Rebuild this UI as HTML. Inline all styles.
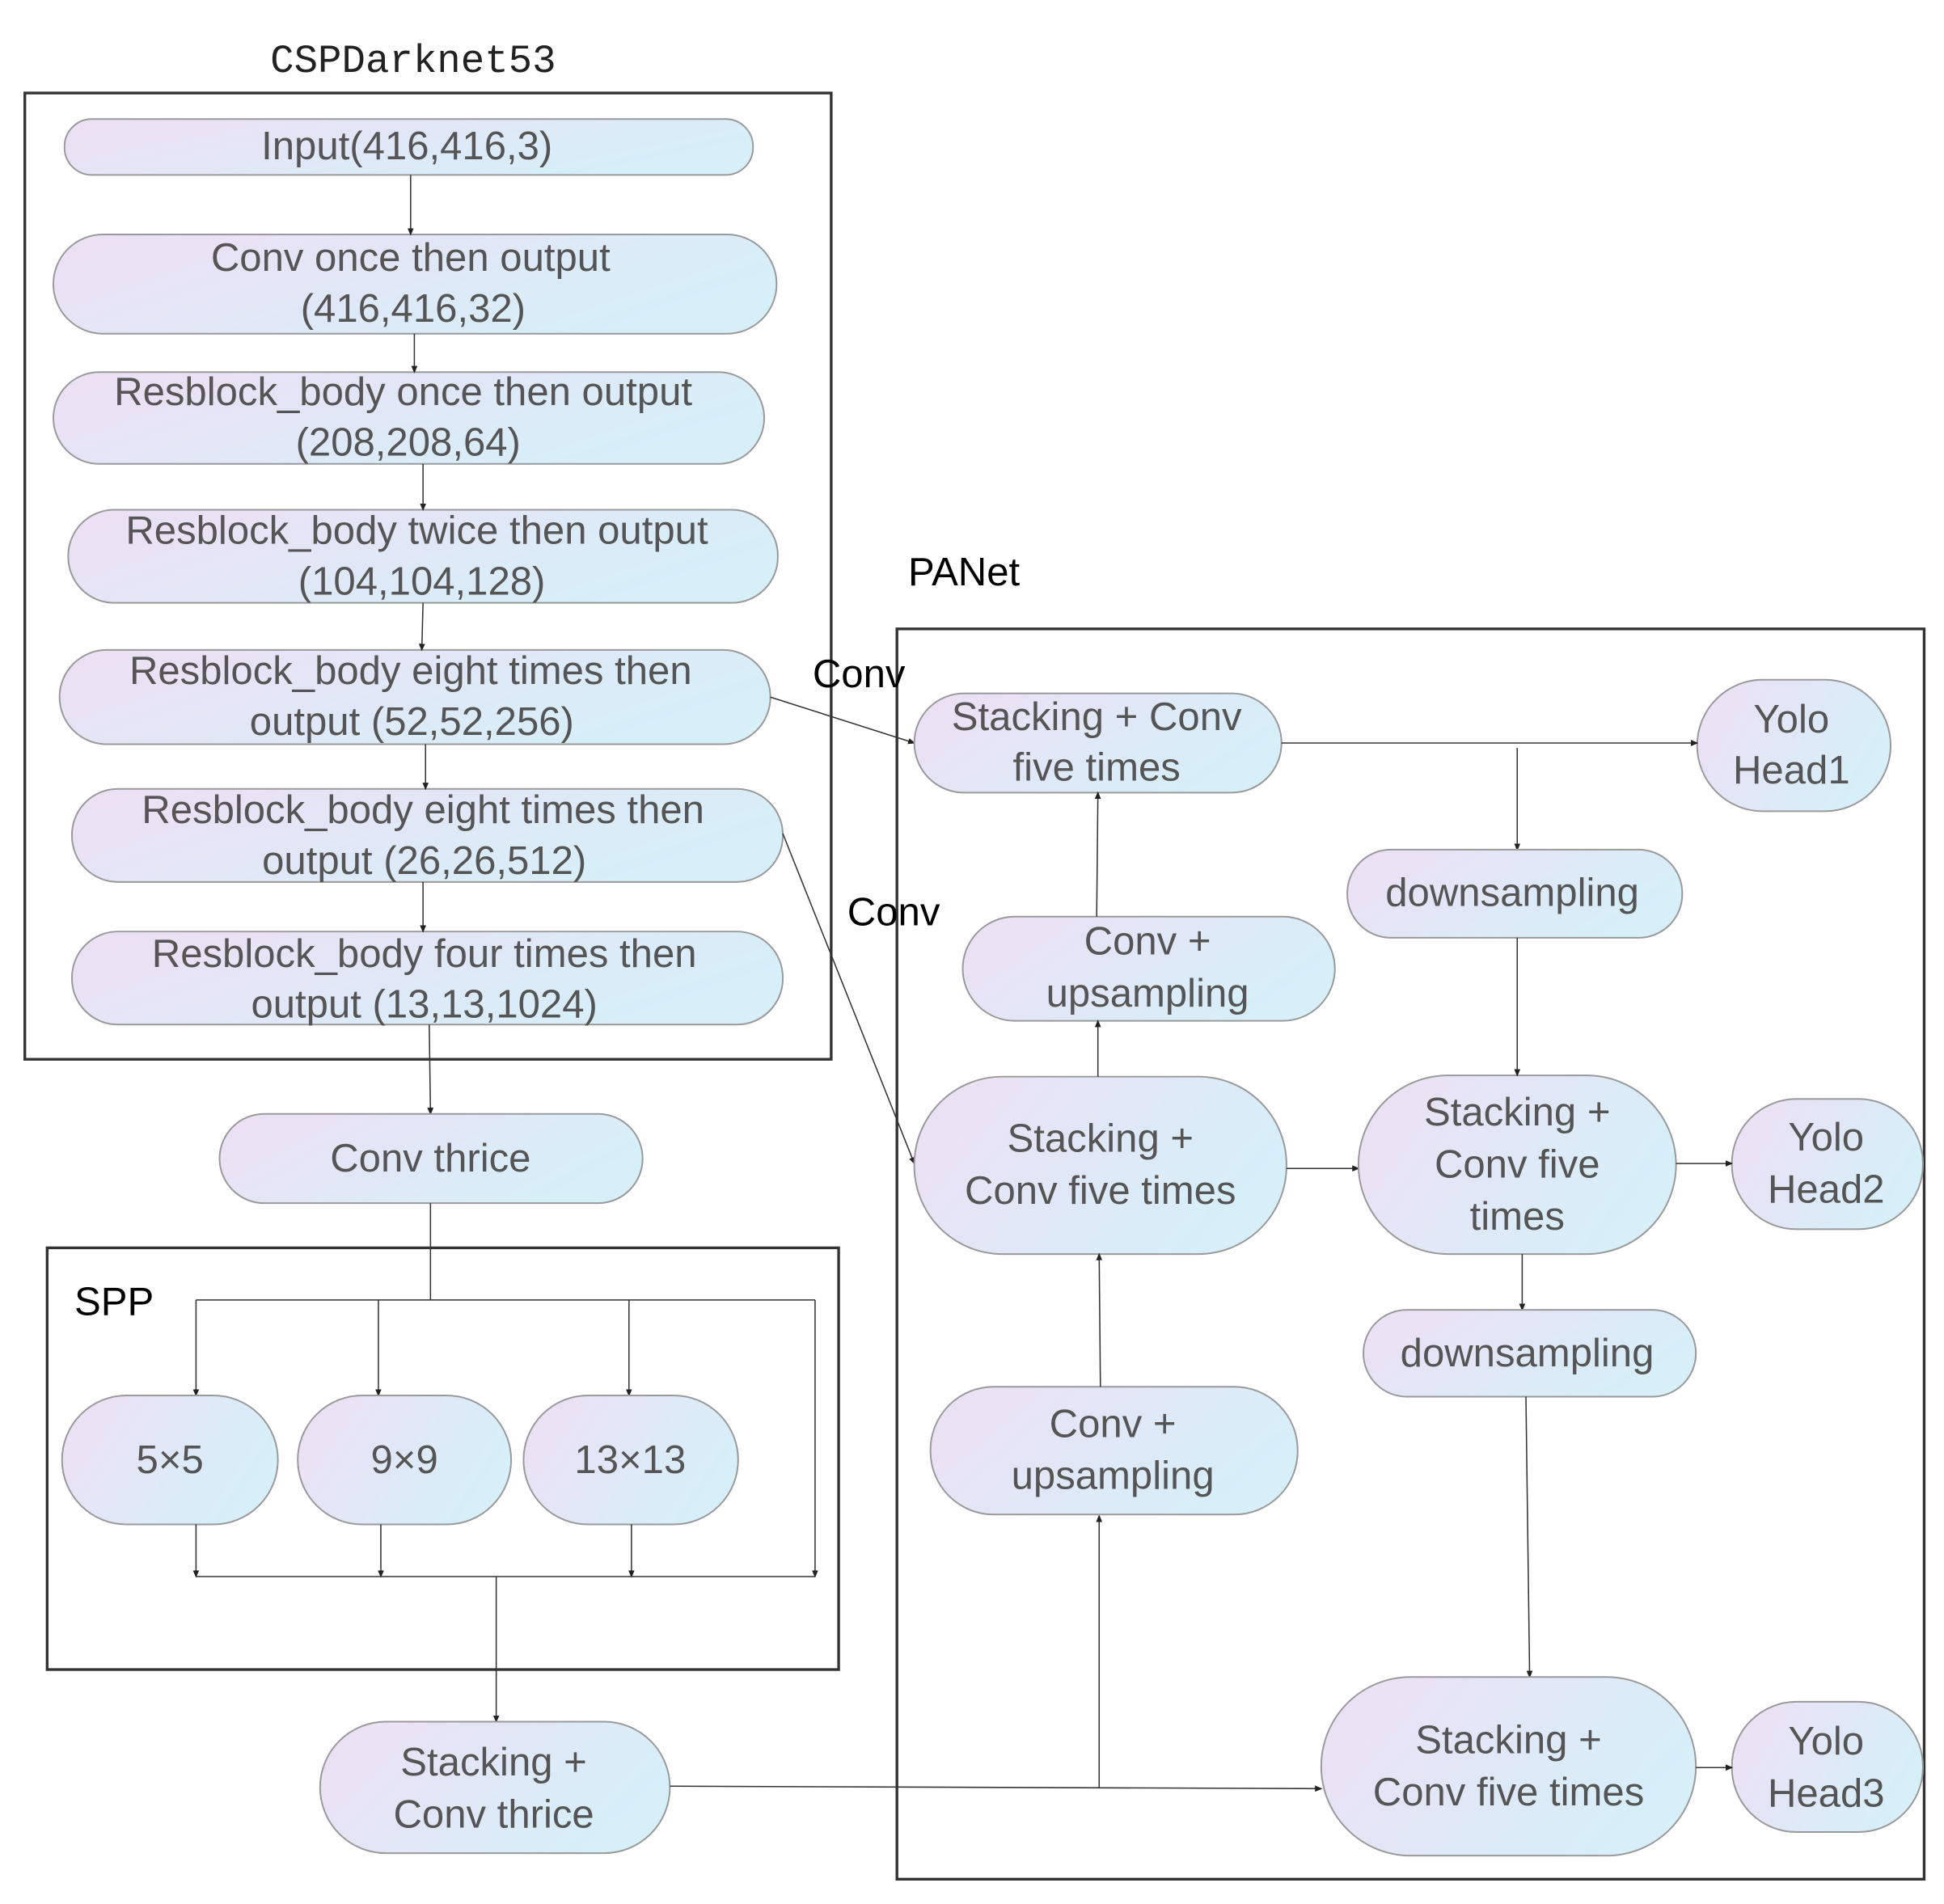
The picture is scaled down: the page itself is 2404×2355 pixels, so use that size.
<!DOCTYPE html>
<html><head><meta charset="utf-8"><style>
html,body{margin:0;padding:0;background:#fff;}
svg{display:block}
.n{stroke:#9a9a9a;stroke-width:1.3;fill:url(#g)}
.t{font-family:"Liberation Sans",sans-serif;font-size:32px;fill:#555;text-anchor:middle;dominant-baseline:middle}
.k{font-family:"Liberation Sans",sans-serif;font-size:32px;fill:#000}
.l{stroke:#333;stroke-width:1;fill:none}
.b{stroke:#333;stroke-width:2.2;fill:none}
</style></head><body>
<svg width="2404" height="2355" viewBox="0 0 1567 1535" preserveAspectRatio="none" xmlns="http://www.w3.org/2000/svg">
<defs>
<linearGradient id="g" x1="0" y1="0" x2="1" y2="0.4">
<stop offset="0" stop-color="#eddff4"/><stop offset="1" stop-color="#d6eff9"/></linearGradient>
<marker id="a" markerWidth="6" markerHeight="6" refX="5" refY="3" orient="auto" markerUnits="userSpaceOnUse"><path d="M0,0.5 L6,3 L0,5.5z" fill="#222"/></marker>
</defs>
<text x="333" y="58" font-family="Liberation Mono,monospace" font-size="32" text-anchor="middle" fill="#222">CSPDarknet53</text>
<rect class="b" x="20" y="75" width="650" height="779"/>
<rect class="b" x="38" y="1006" width="638" height="340"/>
<rect class="b" x="723" y="507" width="828" height="1008"/>
<text class="k" x="60" y="1060">SPP</text>
<text class="k" x="732" y="472">PANet</text>
<text class="k" x="655" y="554">Conv</text>
<text class="k" x="683" y="746">Conv</text>

<rect class="n" x="52" y="96" width="555" height="45" rx="22"/><text class="t" x="328" y="120">Input(416,416,3)</text>
<rect class="n" x="43" y="189" width="583" height="80" rx="40"/><text class="t" x="331" y="210">Conv once then output</text><text class="t" x="333" y="251">(416,416,32)</text>
<rect class="n" x="43" y="300" width="573" height="74" rx="37"/><text class="t" x="325" y="318">Resblock_body once then output</text><text class="t" x="329" y="359">(208,208,64)</text>
<rect class="n" x="55" y="411" width="572" height="75" rx="37"/><text class="t" x="336" y="430">Resblock_body twice then output</text><text class="t" x="340" y="471">(104,104,128)</text>
<rect class="n" x="48" y="524" width="573" height="76" rx="38"/><text class="t" x="331" y="543">Resblock_body eight times then</text><text class="t" x="332" y="584">output (52,52,256)</text>
<rect class="n" x="58" y="636" width="573" height="75" rx="37"/><text class="t" x="341" y="655">Resblock_body eight times then</text><text class="t" x="342" y="696">output (26,26,512)</text>
<rect class="n" x="58" y="751" width="573" height="75" rx="37"/><text class="t" x="342" y="771">Resblock_body four times then</text><text class="t" x="342" y="812">output (13,13,1024)</text>
<line class="l" x1="331" y1="141" x2="331" y2="189" marker-end="url(#a)"/>
<line class="l" x1="334" y1="269" x2="334" y2="300" marker-end="url(#a)"/>
<line class="l" x1="341" y1="374" x2="341" y2="411" marker-end="url(#a)"/>
<line class="l" x1="341" y1="486" x2="340" y2="524" marker-end="url(#a)"/>
<line class="l" x1="343" y1="600" x2="343" y2="636" marker-end="url(#a)"/>
<line class="l" x1="341" y1="711" x2="341" y2="751" marker-end="url(#a)"/>
<line class="l" x1="346" y1="826" x2="347" y2="898" marker-end="url(#a)"/>

<rect class="n" x="177" y="898" width="341" height="72" rx="36"/><text class="t" x="347" y="936">Conv thrice</text>
<polyline class="l" points="347,970 347,1048"/>
<line class="l" x1="158" y1="1048" x2="657" y2="1048"/>
<line class="l" x1="158" y1="1048" x2="158" y2="1125" marker-end="url(#a)"/>
<line class="l" x1="305" y1="1048" x2="305" y2="1125" marker-end="url(#a)"/>
<line class="l" x1="507" y1="1048" x2="507" y2="1125" marker-end="url(#a)"/>
<line class="l" x1="657" y1="1048" x2="657" y2="1271" marker-end="url(#a)"/>
<rect class="n" x="50" y="1125" width="174" height="104" rx="52"/><text class="t" x="137" y="1179">5×5</text>
<rect class="n" x="240" y="1125" width="172" height="104" rx="52"/><text class="t" x="326" y="1179">9×9</text>
<rect class="n" x="422" y="1125" width="173" height="104" rx="52"/><text class="t" x="508" y="1179">13×13</text>
<line class="l" x1="158" y1="1229" x2="158" y2="1271" marker-end="url(#a)"/>
<line class="l" x1="307" y1="1229" x2="307" y2="1271" marker-end="url(#a)"/>
<line class="l" x1="509" y1="1229" x2="509" y2="1271" marker-end="url(#a)"/>
<line class="l" x1="158" y1="1271" x2="657" y2="1271"/>
<line class="l" x1="400" y1="1271" x2="400" y2="1388" marker-end="url(#a)"/>
<rect class="n" x="258" y="1388" width="282" height="106" rx="53"/><text class="t" x="398" y="1423">Stacking +</text><text class="t" x="398" y="1465">Conv thrice</text>
<line class="l" x1="540" y1="1440" x2="1065" y2="1442" marker-end="url(#a)"/>
<line class="l" x1="886" y1="1441" x2="886" y2="1222" marker-end="url(#a)"/>

<line class="l" x1="621" y1="562" x2="737" y2="599" marker-end="url(#a)"/>
<line class="l" x1="631" y1="672" x2="737" y2="938" marker-end="url(#a)"/>

<rect class="n" x="737" y="559" width="296" height="80" rx="40"/><text class="t" x="884" y="580">Stacking + Conv</text><text class="t" x="884" y="621">five times</text>
<rect class="n" x="1368" y="548" width="156" height="106" rx="53"/><text class="t" x="1444" y="582">Yolo</text><text class="t" x="1444" y="623">Head1</text>
<line class="l" x1="1033" y1="599" x2="1368" y2="599" marker-end="url(#a)"/>
<line class="l" x1="1223" y1="603" x2="1223" y2="685" marker-end="url(#a)"/>
<rect class="n" x="1086" y="685" width="270" height="71" rx="35"/><text class="t" x="1219" y="722">downsampling</text>
<rect class="n" x="776" y="739" width="300" height="84" rx="42"/><text class="t" x="925" y="761">Conv +</text><text class="t" x="925" y="803">upsampling</text>
<line class="l" x1="884" y1="739" x2="885" y2="639" marker-end="url(#a)"/>
<rect class="n" x="737" y="868" width="300" height="143" rx="71"/><text class="t" x="887" y="920">Stacking +</text><text class="t" x="887" y="962">Conv five times</text>
<line class="l" x1="885" y1="868" x2="885" y2="823" marker-end="url(#a)"/>
<line class="l" x1="1037" y1="942" x2="1095" y2="942" marker-end="url(#a)"/>
<rect class="n" x="1095" y="867" width="256" height="144" rx="72"/><text class="t" x="1223" y="899">Stacking +</text><text class="t" x="1223" y="941">Conv five</text><text class="t" x="1223" y="983">times</text>
<line class="l" x1="1223" y1="756" x2="1223" y2="867" marker-end="url(#a)"/>
<rect class="n" x="1396" y="886" width="154" height="105" rx="52"/><text class="t" x="1472" y="919">Yolo</text><text class="t" x="1472" y="961">Head2</text>
<line class="l" x1="1351" y1="938" x2="1396" y2="938" marker-end="url(#a)"/>
<line class="l" x1="1227" y1="1011" x2="1227" y2="1056" marker-end="url(#a)"/>
<rect class="n" x="1099" y="1056" width="268" height="70" rx="35"/><text class="t" x="1231" y="1093">downsampling</text>
<rect class="n" x="750" y="1118" width="296" height="103" rx="51"/><text class="t" x="897" y="1150">Conv +</text><text class="t" x="897" y="1192">upsampling</text>
<line class="l" x1="887" y1="1118" x2="886" y2="1011" marker-end="url(#a)"/>
<line class="l" x1="1230" y1="1126" x2="1233" y2="1352" marker-end="url(#a)"/>
<rect class="n" x="1065" y="1352" width="302" height="144" rx="72"/><text class="t" x="1216" y="1405">Stacking +</text><text class="t" x="1216" y="1447">Conv five times</text>
<rect class="n" x="1396" y="1372" width="154" height="105" rx="52"/><text class="t" x="1472" y="1406">Yolo</text><text class="t" x="1472" y="1448">Head3</text>
<line class="l" x1="1367" y1="1425" x2="1396" y2="1425" marker-end="url(#a)"/>
</svg>
</body></html>
